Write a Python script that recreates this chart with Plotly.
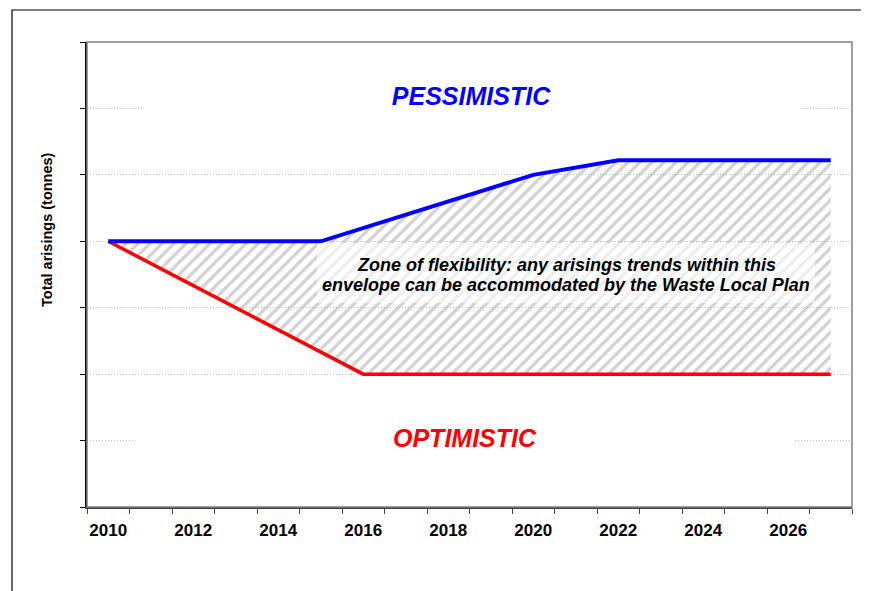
import plotly.graph_objects as go

# Data (vertices of the two scenario lines)
pess_years = [2010, 2015, 2020, 2022, 2027]
pess_values = [4.0, 4.0, 5.0, 5.22, 5.22]
opt_years = [2010, 2016, 2027]
opt_values = [4.0, 2.0, 2.0]

tick_years = [2010, 2012, 2014, 2016, 2018, 2020, 2022, 2024, 2026]
boundary_ticks = [y - 0.5 for y in range(2010, 2029)]
y_ticks = list(range(0, 8))

FONT = "Liberation Sans, Arial, sans-serif"

fig = go.Figure()

# base for the fill (optimistic, invisible)
fig.add_trace(go.Scatter(x=opt_years, y=opt_values, mode="lines",
                         line=dict(width=0, color="red"), showlegend=False,
                         hoverinfo="skip"))
# hatched zone between pessimistic and optimistic
fig.add_trace(go.Scatter(x=pess_years, y=pess_values, mode="lines",
                         line=dict(width=0, color="blue"), fill="tonexty",
                         fillcolor="rgba(0,0,0,0)",
                         fillpattern=dict(shape="/", fgcolor="#a6a6a6",
                                          bgcolor="rgba(0,0,0,0)",
                                          size=8.5, solidity=0.4),
                         showlegend=False, hoverinfo="skip"))
# visible lines
fig.add_trace(go.Scatter(x=opt_years, y=opt_values, mode="lines",
                         line=dict(width=3.5, color="#ff0000"), showlegend=False))
fig.add_trace(go.Scatter(x=pess_years, y=pess_values, mode="lines",
                         line=dict(width=4, color="#0000ff"), showlegend=False))

# page-pixel geometry of the plot area (page has an 8px body margin)
OFF = 8
FW, FH = 869 - OFF, 591 - OFF
L, R, T, B = 87, 852, 42, 507
W, H = R - L, B - T


def px_x(p):
    return (p - L) / W


def px_y(p):
    return (B - p) / H


fig.update_layout(
    width=FW, height=FH,
    margin=dict(l=L - OFF, r=FW - (R - OFF), t=T - OFF, b=FH - (B - OFF)),
    paper_bgcolor="white", plot_bgcolor="white",
    font=dict(family=FONT, color="black"),
    xaxis=dict(range=[2009.5, 2027.5], tickmode="array", tickvals=tick_years,
               ticktext=[str(y) for y in tick_years], ticks="",
               ticklabelstandoff=7,
               tickfont=dict(size=17, weight="bold", color="black"),
               showgrid=False, zeroline=False,
               showline=True, linecolor="#404040", linewidth=2,
               minor=dict(tickmode="array", tickvals=boundary_ticks,
                          ticks="outside", ticklen=5, tickcolor="#404040",
                          tickwidth=1, showgrid=False)),
    yaxis=dict(range=[0, 7], tickmode="array", tickvals=y_ticks,
               showticklabels=False, ticks="outside", ticklen=5,
               tickcolor="black", showgrid=True, gridcolor="#c4c4c4",
               griddash="1px,2px", gridwidth=1, zeroline=False,
               showline=True, linecolor="black", linewidth=1.5),
    shapes=[
        # grey plot-area frame (top / right)
        dict(type="rect", xref="paper", yref="paper", x0=0, x1=1, y0=0, y1=1,
             line=dict(color="#808080", width=1.5), layer="above"),
        # outer chart frame
        dict(type="rect", xref="paper", yref="paper",
             x0=px_x(12), x1=px_x(900), y0=px_y(640), y1=px_y(10),
             line=dict(color="black", width=1.2)),
        # translucent box behind the zone text
        dict(type="rect", xref="paper", yref="paper",
             x0=px_x(317), x1=px_x(815), y0=px_y(303), y1=px_y(243),
             line=dict(width=0), fillcolor="rgba(255,255,255,0.6)",
             layer="above"),
    ],
    annotations=[
        dict(text="<b><i>PESSIMISTIC</i></b>", xref="paper", yref="paper",
             x=px_x(471), y=px_y(96), xanchor="center", yanchor="middle",
             showarrow=False, width=657, height=40, bgcolor="white",
             borderpad=0, font=dict(size=25, color="#0000ff", family=FONT)),
        dict(text="<b><i>OPTIMISTIC</i></b>", xref="paper", yref="paper",
             x=px_x(465), y=px_y(438), xanchor="center", yanchor="middle",
             showarrow=False, width=658, height=40, bgcolor="white",
             borderpad=0, font=dict(size=25, color="#ff0000", family=FONT)),
        dict(text="<b><i>Zone of flexibility: any arisings trends within this</i></b>",
             xref="paper", yref="paper",
             x=px_x(566), y=px_y(265), xanchor="center", yanchor="middle",
             showarrow=False, font=dict(size=18, color="black", family=FONT)),
        dict(text="<b><i>envelope can be accommodated by the Waste Local Plan</i></b>",
             xref="paper", yref="paper",
             x=px_x(566), y=px_y(285), xanchor="center", yanchor="middle",
             showarrow=False, font=dict(size=18, color="black", family=FONT)),
        dict(text="<b>Total arisings (tonnes)</b>", xref="paper", yref="paper",
             x=px_x(47), y=px_y(230), xanchor="center", yanchor="middle",
             textangle=-90, showarrow=False,
             font=dict(size=14.5, color="black", family=FONT)),
    ],
)

fig.write_html("out.html")
